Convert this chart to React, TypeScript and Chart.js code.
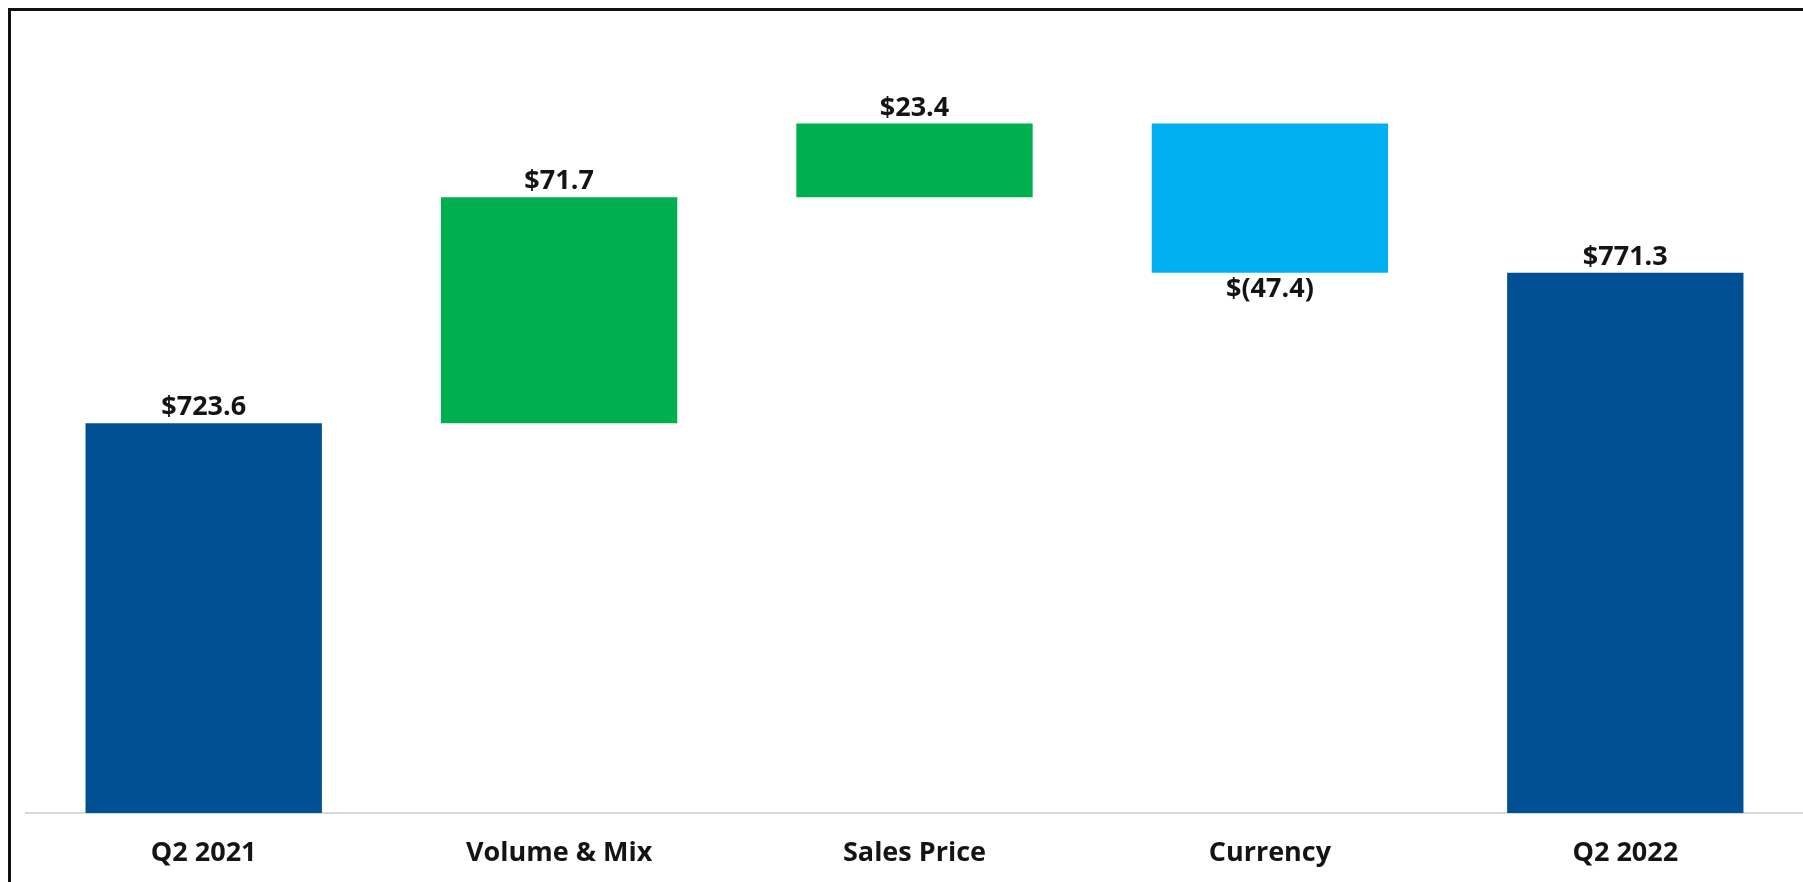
import React, { useEffect, useRef } from "react";
import { Chart, registerables } from "chart.js";

Chart.register(...registerables);

const categories = ["Q2 2021", "Volume & Mix", "Sales Price", "Currency", "Q2 2022"];
const values = [723.6, 71.7, 23.4, -47.4, 771.3];
const kinds = ["total", "delta", "delta", "delta", "total"];
const barColors = ["#004F93", "#00B050", "#00B050", "#00B0F0", "#004F93"];
const axisMin = 600;
const axisMax = 848;

function buildRanges(): [number, number][] {
  const out: [number, number][] = [];
  let running = 0;
  values.forEach((v, i) => {
    if (kinds[i] === "total") {
      out.push([axisMin, v]);
      running = v;
    } else {
      out.push([running, running + v]);
      running = running + v;
    }
  });
  return out;
}

function fmt(v: number): string {
  return v < 0 ? `$(${Math.abs(v).toFixed(1)})` : `$${v.toFixed(1)}`;
}

const FONT = "'Open Sans', 'DejaVu Sans', sans-serif";

const labelPlugin = {
  id: "wfLabels",
  afterDatasetsDraw(chart: any) {
    const ctx = chart.ctx;
    const meta = chart.getDatasetMeta(0);
    ctx.save();
    ctx.font = `bold 27px ${FONT}`;
    ctx.fillStyle = "#141414";
    ctx.textAlign = "center";
    meta.data.forEach((bar: any, i: number) => {
      const v = values[i];
      const { x, y, base } = bar.getProps(["x", "y", "base"], true);
      if (v < 0) {
        ctx.textBaseline = "top";
        ctx.fillText(fmt(v), x, Math.max(y, base) + 3);
      } else {
        ctx.textBaseline = "bottom";
        ctx.fillText(fmt(v), x, Math.min(y, base) - 2);
      }
    });
    ctx.restore();
  },
};

export default function App() {
  const ref = useRef<HTMLCanvasElement | null>(null);
  useEffect(() => {
    if (!ref.current) return;
    const chart = new Chart(ref.current, {
      type: "bar",
      data: {
        labels: categories,
        datasets: [
          {
            data: buildRanges() as any,
            backgroundColor: barColors,
            borderWidth: 0,
            barPercentage: 0.665,
            categoryPercentage: 1,
          },
        ],
      },
      options: {
        animation: false,
        responsive: true,
        maintainAspectRatio: false,
        layout: { padding: { left: 26, right: 0, top: 31, bottom: 0 } },
        plugins: {
          legend: { display: false },
          tooltip: { enabled: false },
        },
        scales: {
          x: {
            grid: { display: false, drawTicks: false },
            border: { display: true, color: "#d9d9d9", width: 2 },
            ticks: {
              color: "#141414",
              font: { family: FONT, size: 27, weight: "bold" },
              padding: 24,
              maxRotation: 0,
            },
            afterFit: (scale: any) => {
              scale.height = 69;
            },
          },
          y: {
            display: false,
            min: axisMin,
            max: axisMax,
          },
        },
      },
      plugins: [labelPlugin],
    });
    return () => chart.destroy();
  }, []);

  return (
    <div
      style={{
        position: "absolute",
        left: 0,
        top: 0,
        width: 1803,
        height: 882,
        background: "#fff",
        overflow: "hidden",
      }}
    >
      <div style={{ position: "absolute", left: 0, top: 0, width: 1803, height: 882 }}>
        <canvas ref={ref} />
      </div>
      <div
        style={{
          position: "absolute",
          left: 8,
          top: 8,
          width: 1800,
          height: 872,
          borderLeft: "3px solid #111",
          borderTop: "3px solid #111",
          borderBottom: "1px solid #ddd",
          pointerEvents: "none",
        }}
      />
    </div>
  );
}
